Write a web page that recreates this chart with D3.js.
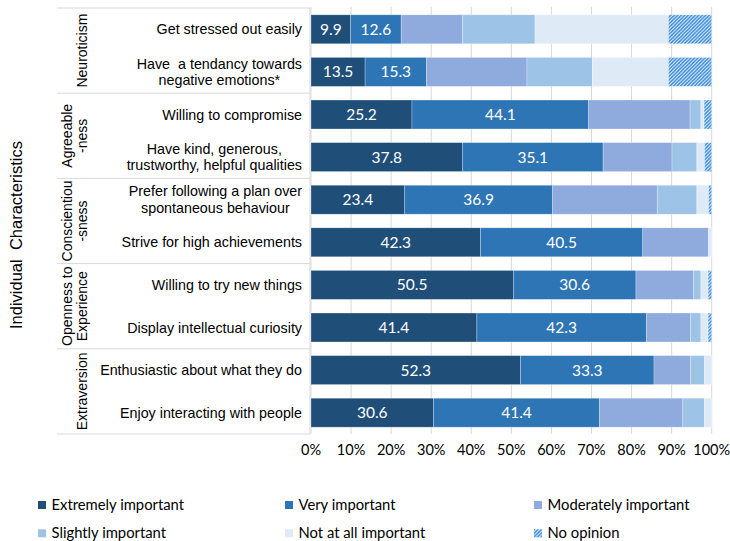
<!DOCTYPE html>
<html>
<head>
<meta charset="utf-8">
<script src="https://cdn.jsdelivr.net/npm/d3@7"></script>
<style>
  html, body { margin: 0; padding: 0; background: #fff; }
  svg { display: block; }
</style>
</head>
<body>
<svg id="chart" width="730" height="541"></svg>
<script>
// ---------- DATA ----------
const categories = [
  ["Get stressed out easily"],
  ["Have  a tendancy towards", "negative emotions*"],
  ["Willing to compromise"],
  ["Have kind, generous,", "trustworthy, helpful qualities"],
  ["Prefer following a plan over", "spontaneous behaviour"],
  ["Strive for high achievements"],
  ["Willing to try new things"],
  ["Display intellectual curiosity"],
  ["Enthusiastic about what they do"],
  ["Enjoy interacting with people"]
];
const groupLabels = [
  ["Neuroticism"],
  ["Agreeable", "-ness"],
  ["Conscientiou", "-sness"],
  ["Openness to", "Experience"],
  ["Extraversion"]
];
const seriesNames = ["Extremely important", "Very important", "Moderately important",
                     "Slightly important", "Not at all important", "No opinion"];
const extremely  = [9.9, 13.5, 25.2, 37.8, 23.4, 42.3, 50.5, 41.4, 52.3, 30.6];
const very       = [12.6, 15.3, 44.1, 35.1, 36.9, 40.5, 30.6, 42.3, 33.3, 41.4];
const moderately = [15.3, 25.1, 25.3, 17.2, 26.1, 16.4, 14.3, 11.0, 9.1, 20.8];
const slightly   = [18.1, 16.3, 2.7, 6.2, 9.9, 0, 1.9, 2.6, 3.5, 5.4];
const notAtAll   = [33.3, 19.0, 0.8, 1.9, 2.9, 0.8, 1.8, 1.8, 1.8, 1.8];
const noOpinion  = [10.8, 10.8, 1.9, 1.8, 0.8, 0, 0.9, 0.9, 0, 0];
const xTicks = [0, 10, 20, 30, 40, 50, 60, 70, 80, 90, 100];
const yTitle = "Individual  Characteristics";

// ---------- SETUP ----------
const seriesValues = [extremely, very, moderately, slightly, notAtAll, noOpinion];
const colors = ["#1F4E79", "#2E75B6", "#8FAADC", "#9DC3E6", "#DEEBF7", "url(#hatch)"];
const labelled = [true, true, false, false, false, false];

const svg = d3.select("#chart");
const defs = svg.append("defs");
const pat = defs.append("pattern")
  .attr("id", "hatch").attr("patternUnits", "userSpaceOnUse")
  .attr("width", 3.5).attr("height", 3.5);
pat.append("rect").attr("width", 3.5).attr("height", 3.5).attr("fill", "#fff");
pat.append("path")
  .attr("d", "M-1,1 l2,-2 M0,3.5 l3.5,-3.5 M2.5,4.5 l2,-2")
  .attr("stroke", "#2F86DA").attr("stroke-width", 1.5);

const plotTop = 8, plotBottom = 434;
const x = d3.scaleLinear().domain([0, 100]).range([311, 711.7]);
const y = d3.scaleBand().domain(d3.range(categories.length))
  .range([plotTop, plotBottom]).paddingInner(0.32).paddingOuter(0.16);

const gridColor = "#D9D9D9";

// gridlines
svg.append("g").selectAll("line").data(xTicks).join("line")
  .attr("x1", d => x(d)).attr("x2", d => x(d))
  .attr("y1", plotTop - 1).attr("y2", plotBottom)
  .attr("stroke", gridColor).attr("stroke-width", 1);

// left table lines
const tableLeft = 57, tableRight = 310;
const bandTop = i => y(i) - (y.step() - y.bandwidth()) / 2;
const bounds = d3.range(groupLabels.length + 1).map(g =>
  g < groupLabels.length ? bandTop(g * 2) : bandTop(categories.length - 1) + y.step());
const tableG = svg.append("g");
tableG.selectAll("line.h").data(bounds).join("line")
  .attr("class", "h")
  .attr("x1", tableLeft).attr("x2", tableRight)
  .attr("y1", d => d).attr("y2", d => d)
  .attr("stroke", gridColor).attr("stroke-width", 1);
tableG.append("line")
  .attr("x1", tableRight).attr("x2", tableRight)
  .attr("y1", bounds[0]).attr("y2", bounds[bounds.length - 1])
  .attr("stroke", gridColor).attr("stroke-width", 1);

// stacked bars
const rows = categories.map((c, i) => {
  let acc = 0;
  return seriesValues.map((s, k) => {
    const seg = { row: i, k, x0: acc, x1: acc + s[i], v: s[i] };
    acc += s[i];
    return seg;
  });
});
const barG = svg.append("g");
rows.forEach(segs => {
  barG.selectAll(null).data(segs.filter(s => s.v > 0)).join("rect")
    .attr("x", d => x(d.x0)).attr("width", d => x(d.x1) - x(d.x0))
    .attr("y", d => y(d.row)).attr("height", y.bandwidth())
    .attr("fill", d => colors[d.k])
    .attr("stroke", "#fff").attr("stroke-opacity", 0.45).attr("stroke-width", 0.6);
  barG.selectAll(null).data(segs.filter(s => labelled[s.k])).join("text")
    .attr("x", d => (x(d.x0) + x(d.x1)) / 2)
    .attr("y", d => y(d.row) + y.bandwidth() / 2)
    .attr("dy", "0.35em")
    .attr("text-anchor", "middle")
    .attr("fill", "#fff")
    .attr("font-family", "Lato, 'Open Sans', sans-serif")
    .attr("font-size", 15.5)
    .text(d => d.v.toFixed(1));
});

// x axis tick labels
svg.append("g").selectAll("text").data(xTicks).join("text")
  .attr("x", d => x(d)).attr("y", 455)
  .attr("text-anchor", "middle")
  .attr("font-family", "Lato, 'Open Sans', sans-serif")
  .attr("font-size", 14.5).attr("fill", "#000")
  .text(d => d + "%");

// category labels
const catG = svg.append("g")
  .attr("font-family", "'Liberation Sans', Arial, sans-serif")
  .attr("font-size", 14.3).attr("fill", "#000");
const lineH = 16.7;
categories.forEach((lines, i) => {
  const cy = y(i) + y.bandwidth() / 2;
  const t = catG.append("text").attr("text-anchor", "middle");
  const spans = lines.map((l, j) => t.append("tspan")
    .attr("y", cy + (j - (lines.length - 1) / 2) * lineH)
    .attr("dy", "0.35em")
    .style("white-space", "pre")
    .text(l));
  const widths = spans.map(s => s.node().getComputedTextLength());
  const maxW = d3.max(widths);
  const cx = 302 - maxW / 2;
  spans.forEach(s => s.attr("x", cx));
});

// group labels (rotated)
const grpG = svg.append("g")
  .attr("font-family", "'Liberation Sans', Arial, sans-serif")
  .attr("font-size", 14).attr("fill", "#000");
groupLabels.forEach((lines, g) => {
  const cy = (bounds[g] + bounds[g + 1]) / 2;
  lines.forEach((l, j) => {
    const cx = lines.length === 1 ? 82.5 : (j === 0 ? 66.7 : 82.5);
    grpG.append("text")
      .attr("transform", `translate(${cx},${cy}) rotate(-90)`)
      .attr("text-anchor", "middle").attr("dy", "0.35em")
      .text(l);
  });
});

// y title
svg.append("text")
  .attr("transform", "translate(16,235) rotate(-90)")
  .attr("text-anchor", "middle").attr("dy", "0.35em")
  .attr("font-family", "'Liberation Sans', Arial, sans-serif")
  .attr("font-size", 16.5).attr("fill", "#000")
  .style("white-space", "pre")
  .text(yTitle);

// legend
const legCols = [38, 285, 534];
const legRows = [505, 533.3];
const legG = svg.append("g")
  .attr("font-family", "Lato, 'Open Sans', sans-serif")
  .attr("font-size", 14.8).attr("fill", "#000");
seriesNames.forEach((name, k) => {
  const lx = legCols[k % 3], ly = legRows[Math.floor(k / 3)];
  legG.append("rect").attr("x", lx).attr("y", ly - 4).attr("width", 8).attr("height", 8)
    .attr("fill", colors[k]);
  legG.append("text").attr("x", lx + 13.5).attr("y", ly).attr("dy", "0.35em").text(name);
});
</script>
</body>
</html>
